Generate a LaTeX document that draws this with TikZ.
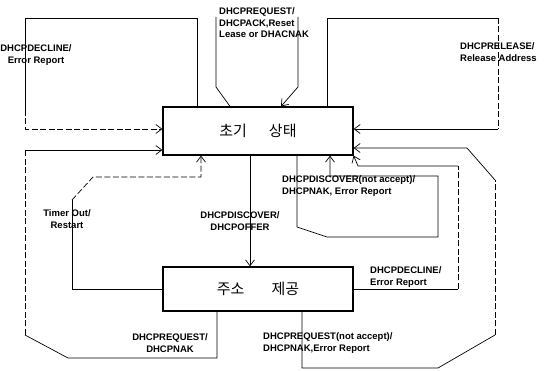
\documentclass[tikz,border=0pt]{standalone}
\usepackage{fontspec}
\usepackage{tikz}
\usetikzlibrary{arrows.meta}
\newfontfamily\lblfont{Liberation Sans}
\newfontfamily\kofont{Noto Sans CJK KR}

\begin{document}
\begin{tikzpicture}[x=1pt,y=-1pt,
        state/.style={draw=black,line width=1.2pt,minimum width=190pt,inner sep=0pt,font=\kofont\fontsize{15}{17}\selectfont},
        conn/.style={draw=black,line width=0.7pt},
        brk/.style={dash pattern=on 6pt off 2.5pt},
        tip/.style={-{Straight Barb[length=6pt,width=9pt]}},
        lbl/.style={inner sep=0pt,font=\lblfont\bfseries\fontsize{9.5}{11.5}\selectfont}]

        \useasboundingbox (0,0) rectangle (547,371);

        \node[state,minimum height=48pt] (init) at (258,131) {\spaceskip=22pt 초기 상태};
        \node[state,minimum height=44pt] (offer) at (258,289) {\spaceskip=27pt 주소 제공};

        \node[lbl,align=center] (decl) at (36,55) {DHCPDECLINE/\\Error Report};
        \node[lbl,align=left,anchor=west] (reqack) at (219,23) {DHCPREQUEST/\\DHCPACK,Reset\\Lease or DHACNAK};
        \node[lbl,align=left,anchor=west] (rel) at (460,52) {DHCPRELEASE/\\Release Address};
        \node[lbl,align=center] (timer) at (67,219) {Timer Out/\\Restart};
        \node[lbl,align=center] (disc) at (240,221) {DHCPDISCOVER/\\DHCPOFFER};
        \node[lbl,align=left,anchor=west] (discnak) at (282,186) {DHCPDISCOVER(not accept)/\\DHCPNAK, Error Report};
        \node[lbl,align=center] (reqnak) at (170,343) {DHCPREQUEST/\\DHCPNAK};
        \node[lbl,align=left,anchor=west] (decl2) at (370,277) {DHCPDECLINE/\\Error Report};
        \node[lbl,align=left,anchor=west] (reqnot) at (263,343) {DHCPREQUEST(not accept)/\\DHCPNAK,Error Report};

        \coordinate (dl) at (25,110);
        \coordinate (dr) at (25,335);
        \coordinate (tm) at (72,200);
        \coordinate (ra) at (216,17);
        \coordinate (rb) at (298,17);
        \coordinate (rl) at (498,18);
        \coordinate (rr) at (495,335);
        \coordinate (rs) at (495,180);
        \coordinate (dc) at (458,166);

        \path[conn] (197,0 |- init.north) |- (25,18) -- (dl);
        \path[conn,brk,tip] (dl) |- (init.west |- 0,129);

        \path[conn] (217,0 |- offer.south) |- (68,358) -- (dr);
        \path[conn,brk] (dr) -- (25,150);
        \path[conn,tip] (25,150) -- (init.west |- 0,150);

        \path[conn] (offer.west) -| (tm);
        \path[conn,brk,tip] (tm) -- (93,177) -| (201,0 |- init.south);

        \path[conn,tip] (250,0 |- init.south) -- (250,0 |- offer.north);

        \path[conn] (230,0 |- init.north) -- (216,87) -- (ra);
        \path[conn,tip] (rb) -- (298,87) -- (281,0 |- init.north);

        \path[conn] (327,0 |- init.north) |- (rl);
        \path[conn,brk] (rl) -- (498,129);
        \path[conn,tip] (498,129) -- (init.east |- 0,129);

        \path[conn] (302,0 |- offer.south) |- (438,368) -- (rr);
        \path[conn,brk] (rr) -- (rs);
        \path[conn,tip] (rs) -- (467,148) -- (init.east |- 0,148);

        \path[conn,tip] (297,0 |- init.south) -- (297,227) -- (327,237) -| (438,176) -| (330,0 |- init.south);

        \path[conn] (offer.east) -- (458,0 |- offer.east);
        \path[conn,brk] (458,0 |- offer.east) -- (dc);
        \path[conn,tip] (dc) -- (358,166) -- (init.south east);

\end{tikzpicture}
\end{document}
